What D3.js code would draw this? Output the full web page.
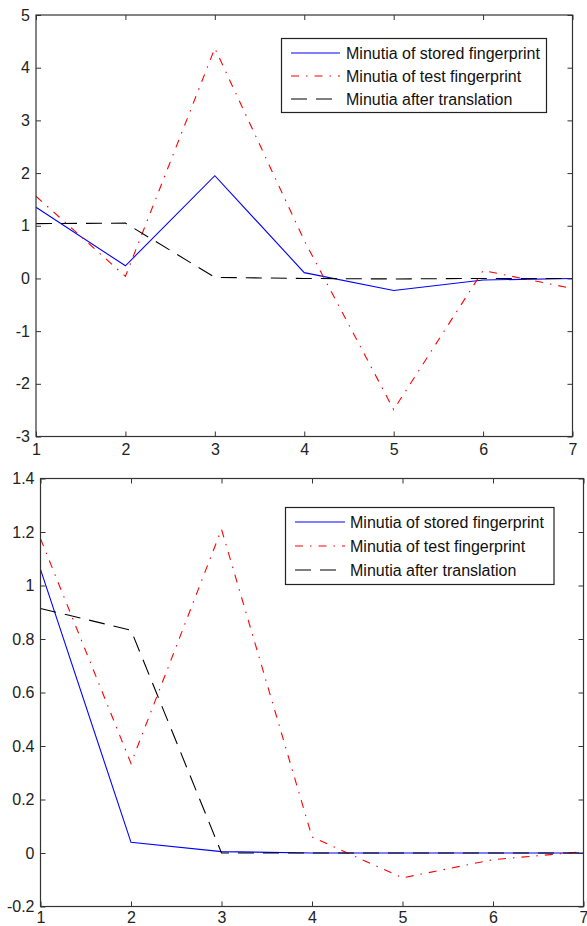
<!DOCTYPE html>
<html>
<head>
<meta charset="utf-8">
<script src="https://cdn.jsdelivr.net/npm/d3@7"></script>
<style>
  body { margin: 0; background: #fff; }
  text { font-family: "Liberation Sans", Arial, sans-serif; }
</style>
</head>
<body>
<div id="chart"></div>
<script>
// x positions of the minutiae
var xs = [1, 2, 3, 4, 5, 6, 7];

// upper plot
var topStored = [1.35, 0.24, 1.95, 0.11, -0.23, -0.03, 0.0];
var topTest   = [1.56, 0.04, 4.37, 0.72, -2.49, 0.15, -0.19];
var topTrans  = [1.04, 1.05, 0.02, 0.0, -0.01, 0.0, 0.0];
var topYTicks = [-3, -2, -1, 0, 1, 2, 3, 4, 5];

// lower plot
var botStored = [1.06, 0.04, 0.005, 0, 0, 0, 0];
var botTest   = [1.175, 0.335, 1.21, 0.06, -0.093, -0.025, 0.005];
var botTrans  = [0.914, 0.833, 0.0, 0, 0, 0, 0];
var botYTicks = [-0.2, 0, 0.2, 0.4, 0.6, 0.8, 1, 1.2, 1.4];

var legendNames = ["Minutia of stored fingerprint", "Minutia of test fingerprint", "Minutia after translation"];

var styles = [
  { color: "#0000ff", dash: null },
  { color: "#ff0000", dash: "8,7,1.5,7" },
  { color: "#000000", dash: "16,9" }
];

var svg = d3.select("#chart").append("svg")
  .attr("width", 587)
  .attr("height", 926);

function panel(cfg) {
  var x = d3.scaleLinear().domain([1, 7]).range([cfg.left, cfg.right]);
  var y = d3.scaleLinear().domain(cfg.yDomain).range([cfg.bottom, cfg.top]);
  var fmt = function (d) { return String(+d.toFixed(1)); };

  var g = svg.append("g");

  // series lines
  var line = d3.line()
    .x(function (d) { return x(d[0]); })
    .y(function (d) { return y(d[1]); });

  cfg.series.forEach(function (s, i) {
    g.append("path")
      .datum(xs.map(function (v, j) { return [v, s[j]]; }))
      .attr("d", line)
      .attr("fill", "none")
      .attr("stroke", styles[i].color)
      .attr("stroke-width", 1.1)
      .attr("stroke-dasharray", styles[i].dash);
  });

  // axes with inward ticks on all four sides
  var fontSize = "16px";
  var ax = g.append("g")
    .attr("transform", "translate(0," + cfg.bottom + ")")
    .call(d3.axisBottom(x).tickValues(xs).tickSize(-5).tickPadding(cfg.xPad).tickFormat(fmt));
  var ay = g.append("g")
    .attr("transform", "translate(" + cfg.left + ",0)")
    .call(d3.axisLeft(y).tickValues(cfg.yTicks).tickSize(-5).tickPadding(6).tickFormat(fmt));
  var at = g.append("g")
    .attr("transform", "translate(0," + cfg.top + ")")
    .call(d3.axisTop(x).tickValues(xs).tickSize(-5).tickFormat(""));
  var ar = g.append("g")
    .attr("transform", "translate(" + cfg.right + ",0)")
    .call(d3.axisRight(y).tickValues(cfg.yTicks).tickSize(-5).tickFormat(""));

  [ax, ay, at, ar].forEach(function (a) {
    a.select(".domain").remove();
    a.selectAll(".tick line").attr("stroke", "#333");
    a.selectAll("text")
      .style("font-size", fontSize)
      .style("font-family", "'Liberation Sans', Arial, sans-serif")
      .attr("fill", "#222");
  });

  // frame
  g.append("rect")
    .attr("x", cfg.left)
    .attr("y", cfg.top)
    .attr("width", cfg.right - cfg.left)
    .attr("height", cfg.bottom - cfg.top)
    .attr("fill", "none")
    .attr("stroke", "#333")
    .attr("stroke-width", 1.2);

  // legend
  var lg = g.append("g");
  lg.append("rect")
    .attr("x", cfg.legend.x0)
    .attr("y", cfg.legend.y0)
    .attr("width", cfg.legend.x1 - cfg.legend.x0)
    .attr("height", cfg.legend.y1 - cfg.legend.y0)
    .attr("fill", "#fff")
    .attr("stroke", "#222")
    .attr("stroke-width", 1.2);

  legendNames.forEach(function (name, i) {
    var yy = cfg.legend.y0 + cfg.legend.first + i * cfg.legend.step;
    lg.append("line")
      .attr("x1", cfg.legend.lineX0)
      .attr("x2", cfg.legend.lineX1)
      .attr("y1", yy)
      .attr("y2", yy)
      .attr("stroke", styles[i].color)
      .attr("stroke-width", 1.1)
      .attr("stroke-dasharray", styles[i].dash);
    lg.append("text")
      .attr("x", cfg.legend.textX)
      .attr("y", yy)
      .attr("dy", "0.35em")
      .style("font-size", fontSize)
      .attr("fill", "#111")
      .text(name);
  });
}

panel({
  left: 36, right: 572.5, top: 15, bottom: 436.5, xPad: 7,
  yDomain: [-3, 5], yTicks: topYTicks,
  series: [topStored, topTest, topTrans],
  legend: { x0: 281.5, x1: 546.5, y0: 38.5, y1: 112.5, first: 14.5, step: 23,
            lineX0: 291, lineX1: 340, textX: 346 }
});

panel({
  left: 40.5, right: 583.5, top: 478.5, bottom: 906.5, xPad: 5,
  yDomain: [-0.2, 1.4], yTicks: botYTicks,
  series: [botStored, botTest, botTrans],
  legend: { x0: 285.5, x1: 554, y0: 507.5, y1: 584.5, first: 14.5, step: 24,
            lineX0: 295, lineX1: 345, textX: 350 }
});
</script>
</body>
</html>
